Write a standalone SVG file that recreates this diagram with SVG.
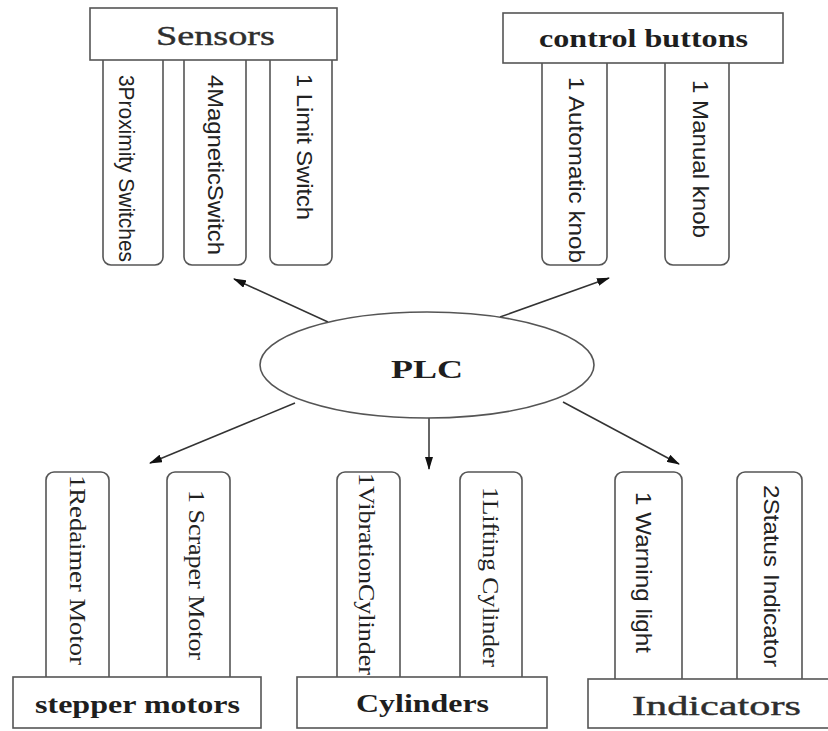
<svg xmlns="http://www.w3.org/2000/svg" width="828" height="731" viewBox="0 0 828 731">
  <style>
    .bg { fill: #ffffff; }
    .box { fill: #ffffff; stroke: #555555; stroke-width: 1.6; }
    .item { fill: #ffffff; stroke: #555555; stroke-width: 1.6; }
    .link { fill: none; stroke: #333333; stroke-width: 1.5; }
    .head-mono { font-family: "Liberation Serif", "DejaVu Serif", serif; font-size: 27px; fill: #2e2e2e; stroke: #2e2e2e; stroke-width: 0.4; }
    .head-bold { font-family: "Liberation Serif", "Times New Roman", serif; font-weight: bold; font-size: 26px; fill: #1e1e1e; }
    .v-sans { font-family: "Liberation Sans", Arial, sans-serif; font-size: 22px; fill: #222222; dominant-baseline: central; }
    .v-serif { font-family: "Liberation Serif", "Times New Roman", serif; font-size: 23px; fill: #222222; dominant-baseline: central; }
  </style>
  <defs>
    <marker id="arrow" viewBox="0 0 13 8" refX="12" refY="4" markerWidth="13" markerHeight="8" markerUnits="userSpaceOnUse" orient="auto">
      <path d="M0,0 L13,4 L0,8 Z" fill="#111111"/>
    </marker>
  </defs>

  <rect class="bg" x="0" y="0" width="828" height="731"/>

  <!-- connectors from the PLC to each group -->
  <g id="connectors">
    <line class="link" x1="328" y1="322" x2="234" y2="279" marker-end="url(#arrow)"/>
    <line class="link" x1="500" y1="317" x2="609" y2="278" marker-end="url(#arrow)"/>
    <line class="link" x1="295" y1="403" x2="150" y2="463" marker-end="url(#arrow)"/>
    <line class="link" x1="429" y1="418" x2="429" y2="469" marker-end="url(#arrow)"/>
    <line class="link" x1="563" y1="402" x2="679" y2="464" marker-end="url(#arrow)"/>
  </g>

  <!-- central controller -->
  <g id="plc">
    <ellipse class="box" cx="427" cy="365" rx="167" ry="53"/>
    <text class="head-bold" x="427" y="378" text-anchor="middle" font-size="36" textLength="72" lengthAdjust="spacingAndGlyphs">PLC</text>
  </g>

  <!-- inputs: sensors -->
  <g id="sensors">
    <rect class="item" x="103" y="52" width="60" height="213" rx="8"/>
    <rect class="item" x="184" y="52" width="62" height="213" rx="8"/>
    <rect class="item" x="270" y="52" width="62" height="213" rx="8"/>
    <rect class="box" x="90" y="8" width="247" height="52"/>
    <text class="head-mono" x="156" y="45" textLength="119" lengthAdjust="spacingAndGlyphs">Sensors</text>
    <text class="v-sans" transform="translate(126,75) rotate(90)" font-size="16" textLength="187" lengthAdjust="spacingAndGlyphs">3Proximity Switches</text>
    <text class="v-sans" transform="translate(215,75) rotate(90)" font-size="23" textLength="180" lengthAdjust="spacingAndGlyphs">4MagneticSwitch</text>
    <text class="v-sans" transform="translate(304,74) rotate(90)" textLength="146" lengthAdjust="spacingAndGlyphs">1 Limit Switch</text>
  </g>

  <!-- inputs: control buttons -->
  <g id="control-buttons">
    <rect class="item" x="542" y="55" width="65" height="210" rx="8"/>
    <rect class="item" x="665" y="55" width="64" height="210" rx="8"/>
    <rect class="box" x="503" y="13" width="280" height="50"/>
    <text class="head-bold" x="539" y="47" textLength="209" lengthAdjust="spacingAndGlyphs">control buttons</text>
    <text class="v-sans" transform="translate(576,77) rotate(90)" font-size="25" textLength="186" lengthAdjust="spacingAndGlyphs">1 Automatic knob</text>
    <text class="v-sans" transform="translate(700,80) rotate(90)" font-size="24" textLength="158" lengthAdjust="spacingAndGlyphs">1 Manual knob</text>
  </g>

  <!-- outputs: stepper motors -->
  <g id="stepper-motors">
    <rect class="item" x="46" y="472" width="63" height="213" rx="8"/>
    <rect class="item" x="167" y="472" width="63" height="213" rx="8"/>
    <rect class="box" x="13" y="677" width="248" height="51"/>
    <text class="head-bold" x="35" y="713" textLength="205" lengthAdjust="spacingAndGlyphs">stepper motors</text>
    <text class="v-serif" transform="translate(77,475) rotate(90)" font-size="25" textLength="190" lengthAdjust="spacingAndGlyphs">1Redaimer Motor</text>
    <text class="v-serif" transform="translate(196,490) rotate(90)" font-size="22" textLength="170" lengthAdjust="spacingAndGlyphs">1 Scraper Motor</text>
  </g>

  <!-- outputs: cylinders -->
  <g id="cylinders">
    <rect class="item" x="337" y="472" width="63" height="213" rx="8"/>
    <rect class="item" x="460" y="472" width="62" height="213" rx="8"/>
    <rect class="box" x="297" y="677" width="250" height="51"/>
    <text class="head-bold" x="356" y="712" textLength="133" lengthAdjust="spacingAndGlyphs">Cylinders</text>
    <text class="v-serif" transform="translate(366,473) rotate(90)" textLength="202" lengthAdjust="spacingAndGlyphs">1VibrationCylinder</text>
    <text class="v-serif" transform="translate(490,487) rotate(90)" textLength="180" lengthAdjust="spacingAndGlyphs">1Lifting Cylinder</text>
  </g>

  <!-- outputs: indicators -->
  <g id="indicators">
    <rect class="item" x="615" y="472" width="67" height="215" rx="8"/>
    <rect class="item" x="737" y="472" width="65" height="215" rx="8"/>
    <rect class="box" x="588" y="679" width="250" height="49"/>
    <text class="head-mono" x="632" y="715" textLength="169" lengthAdjust="spacingAndGlyphs">Indicators</text>
    <text class="v-sans" transform="translate(643,492) rotate(90)" font-size="19" textLength="161" lengthAdjust="spacingAndGlyphs">1 Warning light</text>
    <text class="v-sans" transform="translate(771,485) rotate(90)" font-size="21" textLength="182" lengthAdjust="spacingAndGlyphs">2Status Indicator</text>
  </g>
</svg>
